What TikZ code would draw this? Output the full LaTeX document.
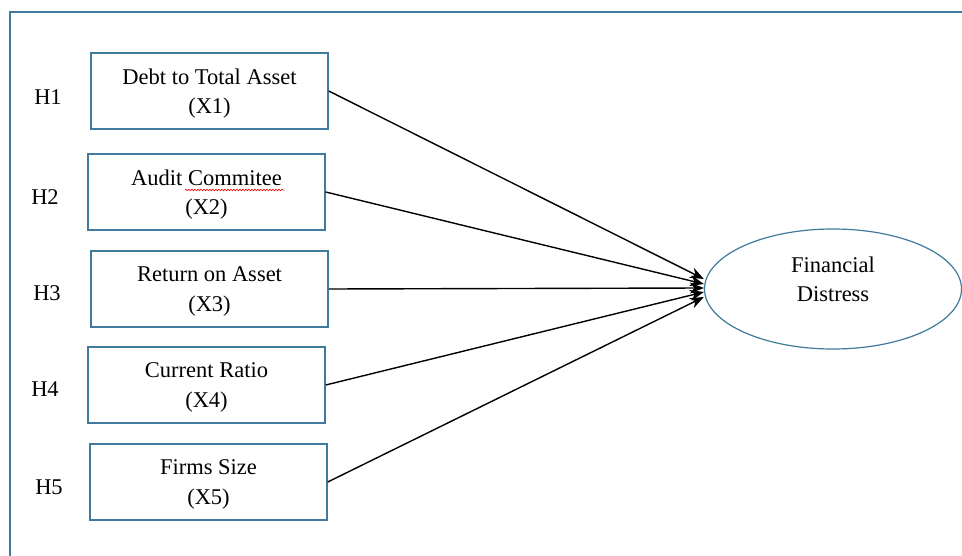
\documentclass[tikz,border=0pt]{standalone}
\usepackage{fontspec}
\setmainfont{Liberation Serif}
\usetikzlibrary{shapes.geometric, decorations.pathmorphing, arrows.meta}
\definecolor{framecol}{RGB}{64,122,156}

\begin{document}
\begin{tikzpicture}[x=1pt, y=-1pt, >={Stealth[length=14pt, width=11pt]},
    txt/.style={font=\fontsize{22.5}{29.5}\selectfont},
    var/.style={txt, draw=framecol, line width=1.5pt, minimum width=237pt,
        minimum height=76pt, align=center, inner sep=0pt, text depth=0pt},
    hyp/.style={txt},
    path/.style={->, line width=1.4pt}]

\useasboundingbox (0,0) rectangle (962,556);

% outer frame
\draw[framecol, line width=2pt] (962,12) -- (10,12) -- (10,556);

% independent variables
\node[var] (x1) at (209.5,91)  {Debt to Total Asset\\(X1)};
\node[var] (x2) at (206.5,192) {Audit Commitee\\(X2)};
\node[var] (x3) at (209.5,289) {Return on Asset\\(X3)};
\node[var] (x4) at (206.5,385) {Current Ratio\\(X4)};
\node[var] (x5) at (208.5,482) {Firms Size\\(X5)};

% hypotheses
\node[hyp] (h1) at (48,97)  {H1};
\node[hyp] (h2) at (45,197) {H2};
\node[hyp] (h3) at (47,293) {H3};
\node[hyp] (h4) at (45,389) {H4};
\node[hyp] (h5) at (49,487) {H5};

% spell-check mark
\draw[red, line width=0.6pt, decorate,
    decoration={snake, amplitude=0.8pt, segment length=3pt}]
    (185,190) -- (284,190);

% dependent variable
\node[txt, ellipse, draw=framecol, line width=1.2pt, minimum width=257pt,
    minimum height=120pt, align=center, inner sep=0pt, text depth=20pt]
    (fd) at (833,289) {Financial\\Distress};

% paths
\foreach \v/\dy in {x1/10,x2/5,x3/1,x4/-3,x5/-8}
    \draw[path] (\v.east) -- ([yshift=\dy pt]fd.west);

\end{tikzpicture}
\end{document}
